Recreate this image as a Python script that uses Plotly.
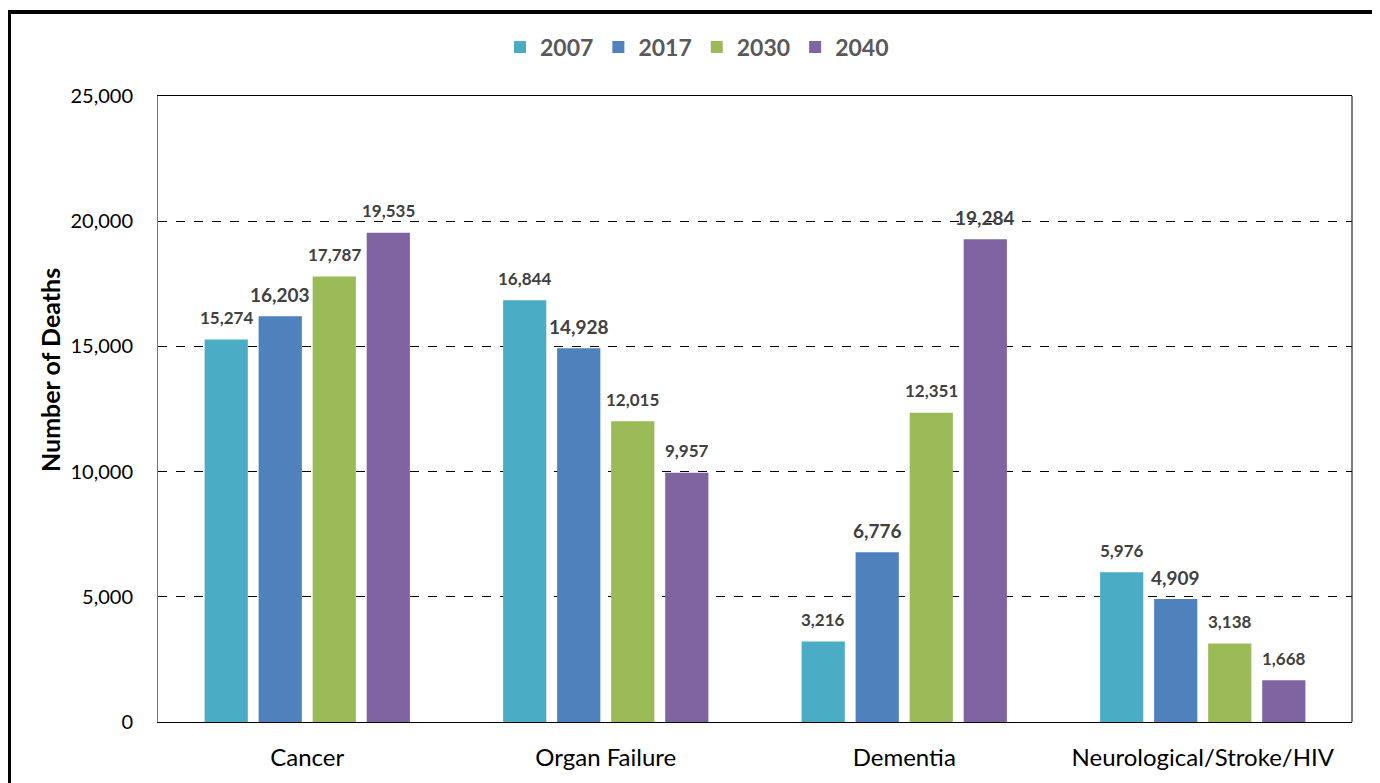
import plotly.graph_objects as go

categories = ["Cancer", "Organ Failure", "Dementia", "Neurological/Stroke/HIV"]
years = ["2007", "2017", "2030", "2040"]
deaths_2007 = [15274, 16844, 3216, 5976]
deaths_2017 = [16203, 14928, 6776, 4909]
deaths_2030 = [17787, 12015, 12351, 3138]
deaths_2040 = [19535, 9957, 19284, 1668]
series = [deaths_2007, deaths_2017, deaths_2030, deaths_2040]
colors = ["#4BACC6", "#4F81BD", "#9BBB59", "#8064A2"]
label_sizes = [[17, 17, 17, 17], [19, 19, 19, 19], [17, 17, 17, 17], [17, 17, 19, 17]]

# page has an 8px body offset: shrink figure accordingly
OFF = 8
W, H = 1380 - OFF, 783 - OFF
L, R, T, B = 158 - OFF, 28, 96 - OFF, 61

BARGAP = 0.276
slot = (1 - BARGAP) / len(series)

fig = go.Figure()
annotations = []
for j, (yr, vals, col, sz) in enumerate(zip(years, series, colors, label_sizes)):
    fig.add_trace(go.Bar(
        name=yr, x=categories, y=vals,
        marker=dict(color=col, line=dict(width=0)),
        hoverinfo="skip",
    ))
    for i, v in enumerate(vals):
        annotations.append(dict(
            x=i + (j - (len(series) - 1) / 2) * slot, y=v, xref="x", yref="y",
            text=f"<b>{v:,}</b>", showarrow=False, yshift=22, yanchor="middle",
            font=dict(family="Lato", size=sz[i], color="#404040"),
        ))

pw, ph = W - L - R, H - T - B
def px_x(x): return (x - OFF - L) / pw
def px_y(y): return 1 - (y - OFF - T) / ph

annotations.append(dict(
    x=px_x(50), y=px_y(370), xref="paper", yref="paper", textangle=-90,
    text="<b>Number of Deaths</b>", showarrow=False, xanchor="center", yanchor="middle",
    font=dict(family="Lato", size=25, color="#000000"),
))

fig.update_layout(
    width=W, height=H,
    margin=dict(l=L, r=R, t=T, b=B, autoexpand=False),
    paper_bgcolor="white", plot_bgcolor="white",
    barmode="group", bargap=BARGAP, bargroupgap=0.2,
    font=dict(family="Lato", color="#000000"),
    showlegend=True,
    legend=dict(orientation="h", x=px_x(697), xanchor="center", y=px_y(47), yanchor="middle",
                font=dict(family="Lato", size=23, color="#595959", weight="bold"),
                itemwidth=30, traceorder="normal", itemclick=False),
    xaxis=dict(showline=True, linecolor="#000000", linewidth=1, mirror=True, automargin=False,
               ticks="", tickfont=dict(size=24, color="#000000"), ticklabelstandoff=14,
               showgrid=False),
    yaxis=dict(range=[0, 25000], tickvals=[0, 5000, 10000, 15000, 20000, 25000],
               tickformat=",d", showline=True, linecolor="#4A7EBB", linewidth=1,
               showgrid=True, gridcolor="#000000", griddash="dash", gridwidth=1,
               zeroline=False, ticks="", ticklabelstandoff=20, automargin=False,
               tickfont=dict(size=20, color="#000000")),
    annotations=annotations,
    shapes=[
        dict(type="line", xref="paper", yref="paper", x0=1, x1=1, y0=0, y1=1,
             line=dict(color="#000000", width=1)),
        dict(type="rect", xref="paper", yref="paper",
             x0=px_x(9), x1=px_x(1374), y0=px_y(12), y1=px_y(800),
             line=dict(color="#000000", width=4)),
    ],
)

fig.write_html("out.html")
